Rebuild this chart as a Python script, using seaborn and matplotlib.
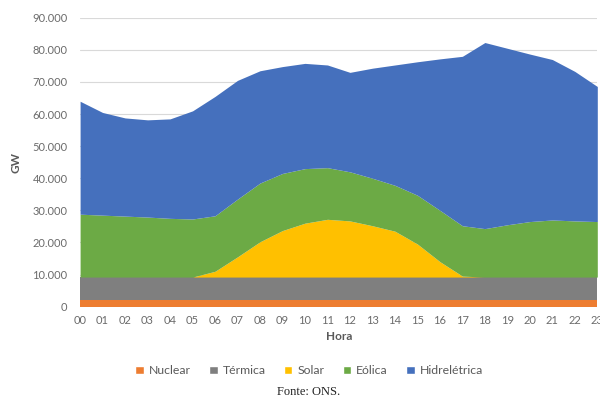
import numpy as np
import seaborn as sns
from matplotlib import pyplot as plt
from matplotlib.ticker import FuncFormatter
from matplotlib.patches import Patch

# Hourly generation by source (MW)
horas = ["00", "01", "02", "03", "04", "05", "06", "07", "08", "09", "10", "11",
         "12", "13", "14", "15", "16", "17", "18", "19", "20", "21", "22", "23"]
nuclear = [2000] * 24
termica = [7200] * 24
solar = [0, 0, 0, 0, 0, 0, 1800, 6300, 11000, 14500, 16800, 18000,
         17500, 16000, 14300, 10300, 4800, 300, 0, 0, 0, 0, 0, 0]
eolica = [19600, 19300, 19000, 18700, 18300, 18100, 17300, 18000, 18300, 17800, 17000, 16100,
          15300, 14800, 14300, 15200, 16000, 15700, 15100, 16300, 17300, 17800, 17500, 17300]
hidro = [35200, 32000, 30600, 30300, 31000, 33700, 37200, 37000, 35000, 33300, 32800, 32000,
         31000, 34300, 37500, 41600, 47200, 52800, 58000, 55000, 52200, 50000, 46600, 42100]

fontes = ["Nuclear", "Térmica", "Solar", "Eólica", "Hidrelétrica"]
cores = ["#ED7D31", "#7F7F7F", "#FFC000", "#6CAA45", "#4570BD"]
yticks = [0, 10000, 20000, 30000, 40000, 50000, 60000, 70000, 80000, 90000]

sns.set_theme(style="white")
plt.rcParams["font.family"] = ["Lato", "DejaVu Sans"]

fig = plt.figure(figsize=(6, 4.05), dpi=100)
ax = fig.add_axes([0.1335, 0.243, 0.862, 0.713])

x = np.arange(len(horas))
ax.stackplot(x, nuclear, termica, solar, eolica, hidro,
             colors=cores, linewidth=0, zorder=2)

# light horizontal gridlines behind the areas
ax.set_yticks(yticks)
ax.yaxis.grid(True, color="#D9D9D9", linewidth=0.8, zorder=0)
ax.set_axisbelow(True)
ax.set_ylim(0, 90000)
ax.set_xlim(0, 23)
ax.set_xticks(x)
ax.set_xticklabels(horas)

def _fmt(v, pos=None):
    return f"{int(v):,}".replace(",", ".")

ax.yaxis.set_major_formatter(FuncFormatter(_fmt))
ax.tick_params(axis="both", length=0, labelsize=8, labelcolor="#6B6B6B")
ax.tick_params(axis="y", pad=9)
ax.tick_params(axis="x", pad=6)

for s in ax.spines.values():
    s.set_visible(False)

ax.set_xlabel("Hora", fontsize=8.5, color="#595959", fontweight="bold", labelpad=4)
ax.set_ylabel("GW", fontsize=8.5, color="#595959", fontweight="bold", labelpad=8)

handles = [Patch(facecolor=c, label=l) for c, l in zip(cores, fontes)]
fig.legend(handles=handles, loc="center", bbox_to_anchor=(0.515, 0.084),
           ncol=5, frameon=False, fontsize=8.8, handlelength=0.7, handleheight=0.7,
           handletextpad=0.4, columnspacing=1.5, labelcolor="#595959")

fig.text(0.515, 0.032, "Fonte: ONS.", ha="center", va="center",
         fontsize=9, family=["Liberation Serif", "DejaVu Serif"], color="#222222")

fig.savefig("out.png", dpi=100)
plt.close(fig)
